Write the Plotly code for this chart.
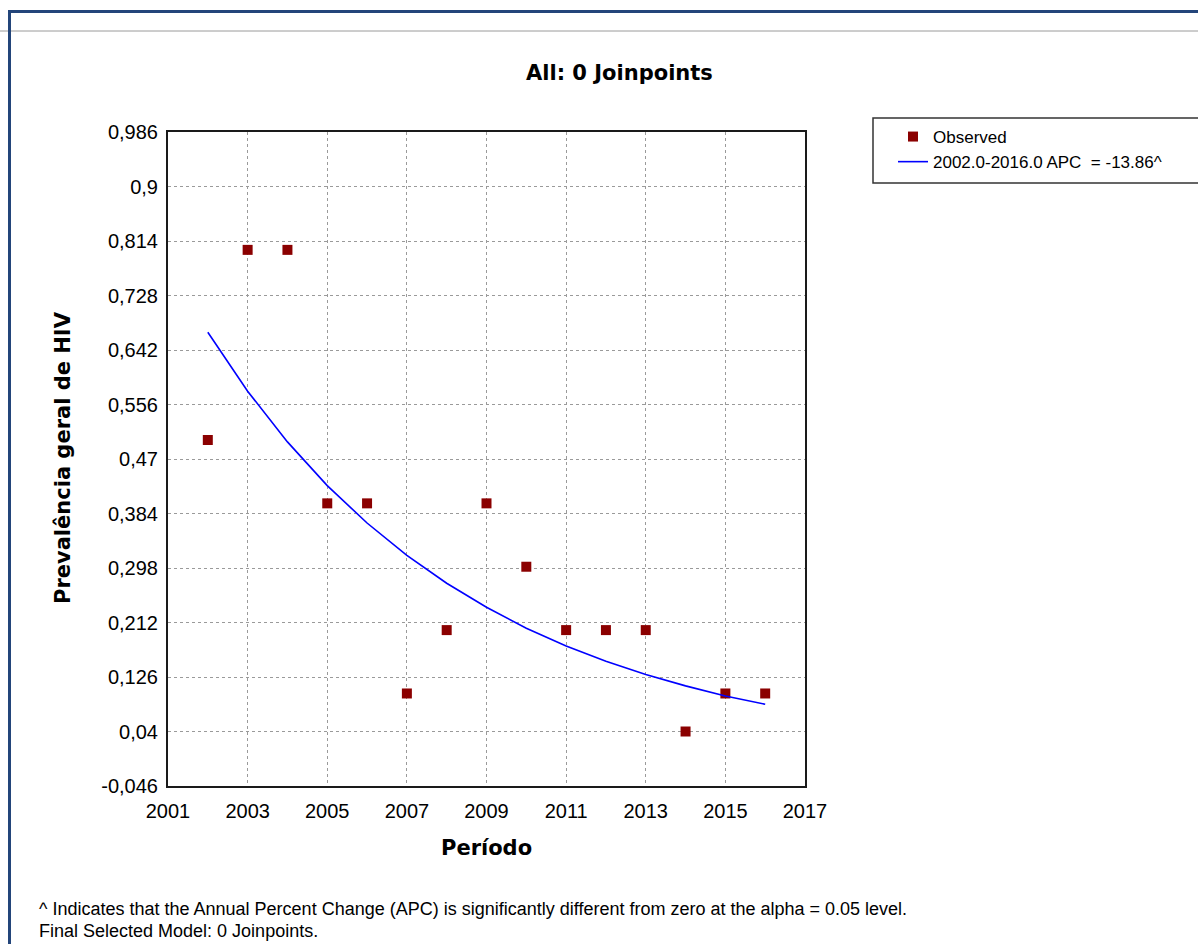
import plotly.graph_objects as go

# ---- data ----
years = [2002, 2003, 2004, 2005, 2006, 2007, 2008, 2009, 2010, 2011, 2012, 2013, 2014, 2015, 2016]
observed = [0.50, 0.80, 0.80, 0.40, 0.40, 0.10, 0.20, 0.40, 0.30, 0.20, 0.20, 0.20, 0.04, 0.10, 0.10]
fitted = [0.670, 0.577, 0.497, 0.428, 0.369, 0.318, 0.274, 0.236, 0.203, 0.175, 0.151, 0.130, 0.112, 0.096, 0.083]
y_ticks = [-0.046, 0.04, 0.126, 0.212, 0.298, 0.384, 0.47, 0.556, 0.642, 0.728, 0.814, 0.9, 0.986]
y_ticklabels = ["-0,046", "0,04", "0,126", "0,212", "0,298", "0,384", "0,47", "0,556", "0,642", "0,728", "0,814", "0,9", "0,986"]
x_ticks = [2001, 2003, 2005, 2007, 2009, 2011, 2013, 2015, 2017]
series_names = ["Observed", "2002.0-2016.0 APC  = -13.86^"]

W, H = 1198, 944
L, R, T, B = 168, 805, 132, 786


def px_x(p):
    return (p - L) / (R - L)


def px_y(p):
    return (B - p) / (B - T)


fig = go.Figure()
fig.add_trace(go.Scatter(
    x=years, y=observed, mode="markers", name=series_names[0],
    marker=dict(symbol="square", size=10, color="#8B0000", line=dict(width=0)),
))
fig.add_trace(go.Scatter(
    x=years, y=fitted, mode="lines", name=series_names[1],
    line=dict(color="#0000FF", width=1.6),
))

tick_font = dict(family="Liberation Sans, Arial, sans-serif", size=20, color="#000")

fig.update_layout(
    width=W, height=H,
    margin=dict(l=L, r=W - R, t=T, b=H - B, pad=0),
    paper_bgcolor="white", plot_bgcolor="white",
    showlegend=True,
    legend=dict(
        x=px_x(893), y=px_y(119), xanchor="left", yanchor="top",
        bgcolor="rgba(0,0,0,0)", borderwidth=0,
        font=dict(family="Liberation Sans, Arial, sans-serif", size=17, color="#000"),
        tracegroupgap=0, itemsizing="trace",
    ),
    xaxis=dict(
        range=[2001, 2017], tickvals=x_ticks, ticktext=[str(v) for v in x_ticks],
        showgrid=True, gridcolor="#9a9a9a", griddash="dot", gridwidth=1,
        showline=True, linecolor="#1a1a1a", linewidth=2, mirror=True,
        ticks="outside", ticklen=6, tickcolor="rgba(0,0,0,0)",
        tickfont=tick_font, zeroline=False,
    ),
    yaxis=dict(
        range=[-0.046, 0.986], tickvals=y_ticks, ticktext=y_ticklabels,
        showgrid=True, gridcolor="#9a9a9a", griddash="dot", gridwidth=1,
        showline=True, linecolor="#1a1a1a", linewidth=2, mirror=True,
        ticks="outside", ticklen=4, tickcolor="rgba(0,0,0,0)",
        tickfont=tick_font, zeroline=False,
    ),
)

shapes = [
    # legend box
    dict(type="rect", xref="paper", yref="paper",
         x0=px_x(873), x1=px_x(1210), y0=px_y(183), y1=px_y(118),
         line=dict(color="#333", width=1.5), fillcolor="rgba(0,0,0,0)"),
    # gray separator line
    dict(type="line", xref="paper", yref="paper",
         x0=px_x(0), x1=px_x(W), y0=px_y(31), y1=px_y(31),
         line=dict(color="#9a9a9a", width=1)),
    # blue frame top
    dict(type="line", xref="paper", yref="paper",
         x0=px_x(8), x1=px_x(W), y0=px_y(11.5), y1=px_y(11.5),
         line=dict(color="#23457a", width=3)),
    # blue frame left
    dict(type="line", xref="paper", yref="paper",
         x0=px_x(9.5), x1=px_x(9.5), y0=px_y(10), y1=px_y(H),
         line=dict(color="#23457a", width=3)),
]

bold_font = dict(family="DejaVu Sans, Verdana, sans-serif", size=21, color="#000")
foot_font = dict(family="Liberation Sans Narrow, Arial Narrow, Liberation Sans, sans-serif", size=18, color="#000")
annotations = [
    dict(text="<b>All: 0 Joinpoints</b>", xref="paper", yref="paper",
         x=px_x(619), y=px_y(73), xanchor="center", yanchor="middle",
         showarrow=False, font=bold_font),
    dict(text="<b>Período</b>", xref="paper", yref="paper",
         x=px_x(486), y=px_y(848), xanchor="center", yanchor="middle",
         showarrow=False, font=bold_font),
    dict(text="<b>Prevalência geral de HIV</b>", xref="paper", yref="paper",
         x=px_x(63), y=px_y(458), xanchor="center", yanchor="middle",
         textangle=-90, showarrow=False, font=bold_font),
    dict(text="^ Indicates that the Annual Percent Change (APC) is significantly different from zero at the alpha = 0.05 level.",
         xref="paper", yref="paper", x=px_x(37), y=px_y(909),
         xanchor="left", yanchor="middle", align="left", showarrow=False, font=foot_font),
    dict(text="Final Selected Model: 0 Joinpoints.",
         xref="paper", yref="paper", x=px_x(37), y=px_y(931),
         xanchor="left", yanchor="middle", align="left", showarrow=False, font=foot_font),
]

fig.update_layout(shapes=shapes, annotations=annotations)
fig.write_html("out.html")
